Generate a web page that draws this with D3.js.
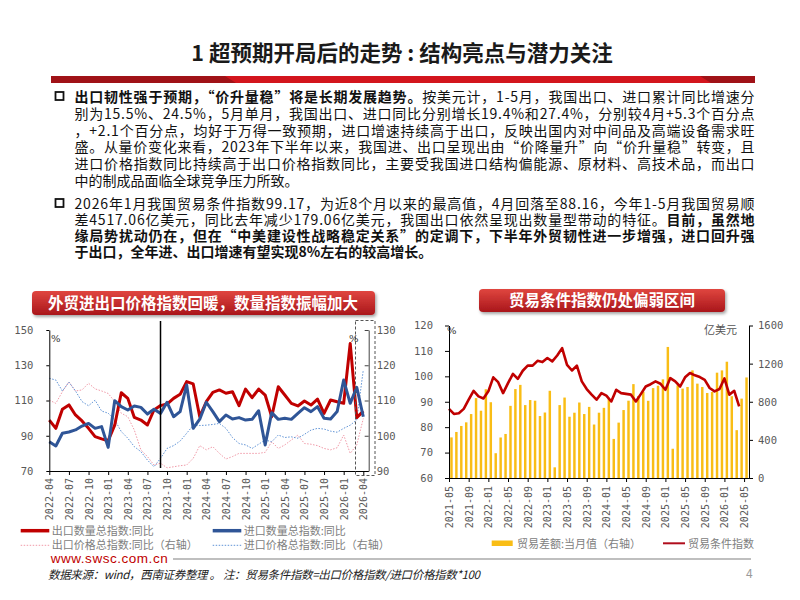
<!DOCTYPE html>
<html>
<head>
<meta charset="utf-8">
<script src="https://cdn.jsdelivr.net/npm/d3@7"></script>
<style>
  body { margin: 0; background: #fff; }
  svg { display: block; font-family: "Noto Sans CJK SC", "Noto Sans", sans-serif; }
  .mono text { font-family: "DejaVu Sans Mono", monospace; }
</style>
</head>
<body>
<svg id="slide" width="800" height="600"></svg>
<script>
// ---- left chart data (2022-04 .. 2026-04) ----
const leftTicks = ["2022-04","2022-07","2022-10","2023-01","2023-04","2023-07","2023-10","2024-01",
  "2024-04","2024-07","2024-10","2025-01","2025-04","2025-07","2025-10","2026-01","2026-04"];
const exportVolume = [98.9, 94.2, 105.0, 107.5, 101.8, 98.4, 94.2, 89.5, 88.2, 87.2,
  96.0, 114.4, 111.2, 100.4, 98.9, 96.1, 104.6, 107.1, 108.0, 111.2,
  113.5, 120.7, 119.4, 100.8, 109.3, 114.6, 116.0, 114.1, 115.0, 107.1,
  116.5, 111.6, 116.5, 113.1, 100.8, 117.8, 113.1, 108.4, 106.9, 109.7,
  107.4, 110.8, 102.7, 110.3, 109.3, 108.4, 142.4, 100.3, 104.0];
const importVolume = [86.6, 84.2, 91.4, 92.1, 93.3, 95.5, 97.0, 94.2, 95.2, 83.4,
  109.9, 106.5, 104.6, 106.9, 106.1, 102.3, 105.0, 102.7, 109.0, 100.8,
  103.7, 118.8, 94.2, 99.4, 109.0, 103.7, 98.0, 101.8, 99.5, 100.3,
  98.9, 99.3, 104.2, 84.8, 103.1, 99.3, 99.9, 99.3, 102.7, 105.9,
  103.7, 106.5, 99.9, 99.5, 103.7, 121.6, 108.4, 117.5, 100.8];
const exportPrice = [110.1, 109.2, 112.5, 115.3, 112.7, 113.0, 114.9, 113.3, 112.7, 112.0,
  109.7, 106.4, 105.4, 101.6, 96.0, 94.1, 91.7, 92.2, 90.9, 91.2,
  91.5, 91.7, 93.6, 97.2, 96.0, 96.9, 95.0, 93.4, 94.1, 95.0,
  95.0, 95.0, 95.0, 95.3, 98.3, 96.4, 97.4, 98.8, 100.2, 97.8,
  97.6, 97.2, 96.4, 96.0, 96.6, 100.2, 95.0, 97.4, 104.9];
const importPrice = [116.3, 115.8, 112.7, 115.2, 112.7, 109.7, 108.5, 110.1, 107.0, 106.4,
  104.5, 101.2, 99.3, 96.9, 95.5, 93.1, 91.2, 93.6, 96.4, 97.2,
  98.5, 100.7, 103.0, 102.9, 103.0, 103.2, 103.5, 102.1, 99.5, 97.8,
  97.4, 96.4, 97.6, 98.8, 98.3, 100.2, 99.5, 99.7, 99.3, 100.4,
  101.6, 102.1, 101.9, 101.3, 101.0, 102.1, 103.0, 104.5, 118.7];

// ---- right chart data (2021-05 .. 2026-05) ----
const rightTicks = ["2021-05","2021-09","2022-01","2022-05","2022-09","2023-01","2023-05","2023-09",
  "2024-01","2024-05","2024-09","2025-01","2025-05","2025-09","2026-01","2026-05"];
const tradeBalance = [426, 483, 546, 584, 671, 838, 706, 931, 795, 260,
  425, 462, 757, 933, 977, 765, 818, 811, 650, 687,
  915, 112, 765, 844, 643, 685, 792, 671, 746, 561,
  685, 736, 830, 410, 581, 713, 811, 985, 860, 905,
  810, 943, 968, 1035, 1375, 307, 973, 938, 955, 1129,
  990, 955, 892, 903, 1105, 1129, 1220, 858, 502, 833, 1055];
const termsOfTrade = [87.2, 85.2, 85.5, 87.2, 90.8, 94.3, 92.1, 91.3, 94.1, 99.6,
  97.7, 93.4, 97.3, 101.0, 99.0, 102.2, 104.2, 104.2, 106.1, 105.6,
  107.2, 105.9, 108.2, 111.1, 104.5, 102.3, 104.2, 98.0, 95.0, 92.8,
  90.8, 93.4, 92.4, 90.1, 94.7, 93.4, 93.1, 92.8, 90.1, 93.0,
  96.0, 96.9, 98.0, 97.1, 94.7, 99.3, 98.0, 96.0, 99.6, 101.3,
  100.4, 99.7, 98.6, 95.4, 94.1, 95.0, 99.17, 92.8, 94.3, 88.16];

const fmt = d3.timeFormat("%Y-%m");
const leftMonths = d3.timeMonth.range(new Date(2022, 3, 1), new Date(2026, 4, 1)).map(fmt);
const rightMonths = d3.timeMonth.range(new Date(2021, 4, 1), new Date(2026, 5, 1)).map(fmt);

const svg = d3.select("#slide");
const defs = svg.append("defs");

const grad = defs.append("linearGradient").attr("id", "hdr").attr("x1", 0).attr("y1", 0).attr("x2", 0).attr("y2", 1);
grad.append("stop").attr("offset", "0%").attr("stop-color", "#e0463f");
grad.append("stop").attr("offset", "100%").attr("stop-color", "#a9161b");
const shadow = defs.append("filter").attr("id", "sh").attr("x", "-10%").attr("y", "-30%").attr("width", "120%").attr("height", "170%");
shadow.append("feDropShadow").attr("dx", 1.5).attr("dy", 2).attr("stdDeviation", 1.5).attr("flood-color", "#000").attr("flood-opacity", 0.35);

// ---- title ----
svg.append("text").attr("x", 402).attr("y", 61).attr("text-anchor", "middle")
  .attr("font-size", 21.5).attr("font-weight", 700).attr("fill", "#1a1a1a")
  .attr("xml:space", "preserve")
  .text("1 超预期开局后的走势 : 结构亮点与潜力关注");

svg.append("rect").attr("x", 51).attr("y", 76).attr("width", 704).attr("height", 7).attr("fill", "#d3151d");
svg.append("path").attr("d", "M51,76 L225,76 L236,83 L51,83 Z").attr("fill", "#a01217");
svg.append("path").attr("d", "M700,76 L755,76 L755,83 L711,83 Z").attr("fill", "#a01217");

// ---- paragraphs ----
function paragraph(lines, y0, lh) {
  svg.append("rect").attr("x", 55.5).attr("y", y0 - 10).attr("width", 8).attr("height", 8)
    .attr("fill", "none").attr("stroke", "#111").attr("stroke-width", 1.8);
  lines.forEach(function(line, i) {
    const t = svg.append("text").attr("x", 74.5).attr("y", y0 + i * lh)
      .attr("font-size", 14).attr("fill", "#111");
    line.parts.forEach(function(p) {
      t.append("tspan").attr("font-weight", p[1] ? 700 : 400).text(p[0]);
    });
    if (line.full) t.attr("textLength", 680).attr("lengthAdjust", "spacing");
  });
}

paragraph([
  {full: true, parts: [["出口韧性强于预期，“价升量稳”将是长期发展趋势。", 1], ["按美元计，1-5月，我国出口、进口累计同比增速分", 0]]},
  {full: true, parts: [["别为15.5%、24.5%，5月单月，我国出口、进口同比分别增长19.4%和27.4%，分别较4月+5.3个百分点", 0]]},
  {full: true, parts: [["，+2.1个百分点，均好于万得一致预期，进口增速持续高于出口，反映出国内对中间品及高端设备需求旺", 0]]},
  {full: true, parts: [["盛。从量价变化来看，2023年下半年以来，我国进、出口呈现出由“价降量升”向“价升量稳”转变，且", 0]]},
  {full: true, parts: [["进口价格指数同比持续高于出口价格指数同比，主要受我国进口结构偏能源、原材料、高技术品，而出口", 0]]},
  {full: false, parts: [["中的制成品面临全球竞争压力所致。", 0]]}
], 102, 16.8);

paragraph([
  {full: true, parts: [["2026年1月我国贸易条件指数99.17，为近8个月以来的最高值，4月回落至88.16，今年1-5月我国贸易顺", 0]]},
  {full: true, parts: [["差4517.06亿美元，同比去年减少179.06亿美元，我国出口依然呈现出数量型带动的特征。", 0], ["目前，虽然地", 1]]},
  {full: true, parts: [["缘局势扰动仍在，但在“中美建设性战略稳定关系”的定调下，下半年外贸韧性进一步增强，进口回升强", 1]]},
  {full: false, parts: [["于出口，全年进、出口增速有望实现8%左右的较高增长。", 1]]}
], 209, 16);

// ---- panel headers ----
function header(x, y, w, h, label, cx, by) {
  svg.append("rect").attr("x", x).attr("y", y).attr("width", w).attr("height", h).attr("rx", 4)
    .attr("fill", "url(#hdr)").attr("filter", "url(#sh)");
  svg.append("text").attr("x", cx).attr("y", by).attr("text-anchor", "middle")
    .attr("font-size", 15.5).attr("font-weight", 700).attr("fill", "#fff").text(label);
}
header(32, 291, 343, 24, "外贸进出口价格指数回暖，数量指数振幅加大", 203, 309);
header(479, 289, 246, 23, "贸易条件指数仍处偏弱区间", 602, 306);

function styleAxis(g, color) {
  g.attr("class", "mono");
  g.select(".domain").attr("stroke", color).attr("stroke-width", 1);
  g.selectAll(".tick line").attr("stroke", color);
  g.selectAll(".tick text").attr("fill", "#595959").attr("font-size", 10.5);
}

// ---- left chart ----
const xL = d3.scalePoint().domain(leftMonths).range([49.3, 363.3]);
const yL = d3.scaleLinear().domain([70, 150]).range([471, 330]);
const yL2 = d3.scaleLinear().domain([90, 130]).range([471, 330]);

const lineL = d3.line().x(d => xL(d.m)).y(d => d.y);
function series(values, scale) {
  return values.map((v, i) => ({m: leftMonths[i], y: scale(v)}));
}
svg.append("path").datum(series(exportPrice, yL2)).attr("d", lineL)
  .attr("fill", "none").attr("stroke", "#f19aa8").attr("stroke-width", 1).attr("stroke-dasharray", "1.5,1.5");
svg.append("path").datum(series(importPrice, yL2)).attr("d", lineL)
  .attr("fill", "none").attr("stroke", "#5f93d6").attr("stroke-width", 1).attr("stroke-dasharray", "1.5,1.5");
svg.append("path").datum(series(exportVolume, yL)).attr("d", lineL)
  .attr("fill", "none").attr("stroke", "#c00000").attr("stroke-width", 3).attr("stroke-linejoin", "round");
svg.append("path").datum(series(importVolume, yL)).attr("d", lineL)
  .attr("fill", "none").attr("stroke", "#2f5597").attr("stroke-width", 3).attr("stroke-linejoin", "round");

svg.append("g").attr("transform", "translate(49.3,0)")
  .call(d3.axisLeft(yL).tickValues([70, 90, 110, 130, 150]).tickSize(3).tickPadding(13).tickSizeOuter(0))
  .call(g => styleAxis(g, "#000"));
svg.append("g").attr("transform", "translate(368.7,0)")
  .call(d3.axisRight(yL2).tickValues([90, 100, 110, 120, 130]).tickSizeInner(-4).tickPadding(8).tickSizeOuter(0))
  .call(g => styleAxis(g, "#444"));
svg.append("g").attr("transform", "translate(0,471)")
  .call(d3.axisBottom(xL).tickValues(leftTicks).tickSize(4).tickSizeOuter(0))
  .call(g => {
    styleAxis(g, "#000");
    g.select(".domain").attr("d", "M49.3,0.5H368.7");
    g.selectAll(".tick text").attr("font-size", 10).attr("transform", "rotate(-90)")
      .attr("text-anchor", "end").attr("x", -7).attr("y", 0).attr("dy", "0.35em");
  });

// marker line and highlight box
svg.append("line").attr("x1", xL("2023-09")).attr("x2", xL("2023-09")).attr("y1", 321).attr("y2", 468)
  .attr("stroke", "#000").attr("stroke-width", 1.5);
svg.append("rect").attr("x", 355.5).attr("y", 320.5).attr("width", 19.5).attr("height", 155)
  .attr("fill", "none").attr("stroke", "#555").attr("stroke-dasharray", "3,2");
svg.append("text").attr("x", 51).attr("y", 342).attr("font-size", 10).attr("fill", "#333")
  .attr("font-family", "DejaVu Serif").text("%");
svg.append("text").attr("x", 349).attr("y", 342).attr("font-size", 10).attr("fill", "#333")
  .attr("font-family", "DejaVu Serif").text("%");

// left legend
const legL = [
  {x: 20.7, y: 530.7, c: "#c00000", w: 3.5, dash: null, t: "出口数量总指数:同比"},
  {x: 212.7, y: 530.7, c: "#2f5597", w: 3.5, dash: null, t: "进口数量总指数:同比"},
  {x: 20.7, y: 545.3, c: "#f19aa8", w: 1, dash: "1.5,1.5", t: "出口价格总指数:同比（右轴）"},
  {x: 212.7, y: 545.3, c: "#5f93d6", w: 1, dash: "1.5,1.5", t: "进口价格总指数:同比（右轴）"}
];
legL.forEach(function(d) {
  svg.append("line").attr("x1", d.x).attr("x2", d.x + 28.6).attr("y1", d.y).attr("y2", d.y)
    .attr("stroke", d.c).attr("stroke-width", d.w).attr("stroke-dasharray", d.dash);
  svg.append("text").attr("x", d.x + 31).attr("y", d.y + 4).attr("font-size", 11).attr("fill", "#808080").text(d.t);
});

// ---- right chart ----
const xR = d3.scaleBand().domain(rightMonths).range([449, 749]).paddingInner(0.5).paddingOuter(0.25);
const xRt = d3.scalePoint().domain(rightMonths).range([449, 449 + 60 * xR.step()]);
const yR = d3.scaleLinear().domain([60, 120]).range([478, 325.5]);
const yR2 = d3.scaleLinear().domain([0, 1600]).range([478, 325.5]);

svg.append("g").selectAll("rect").data(tradeBalance).enter().append("rect")
  .attr("x", (d, i) => xR(rightMonths[i]))
  .attr("y", d => yR2(d))
  .attr("width", xR.bandwidth())
  .attr("height", d => yR2(0) - yR2(d))
  .attr("fill", "#f9bd15");

svg.append("path").datum(termsOfTrade)
  .attr("d", d3.line().x((d, i) => xRt(rightMonths[i])).y(d => yR(d)))
  .attr("fill", "none").attr("stroke", "#c00000").attr("stroke-width", 2.6).attr("stroke-linejoin", "round");

svg.append("g").attr("transform", "translate(449,0)")
  .call(d3.axisLeft(yR).tickValues([60, 70, 80, 90, 100, 110, 120]).tickSize(4).tickPadding(12).tickSizeOuter(0))
  .call(g => styleAxis(g, "#000"));
svg.append("g").attr("transform", "translate(749,0)")
  .call(d3.axisRight(yR2).tickValues([0, 400, 800, 1200, 1600]).tickFormat(d3.format("d"))
    .tickSize(4).tickPadding(5).tickSizeOuter(0))
  .call(g => styleAxis(g, "#000"));
svg.append("g").attr("transform", "translate(0,478)")
  .call(d3.axisBottom(xRt).tickValues(rightTicks).tickSize(4).tickSizeOuter(0))
  .call(g => {
    styleAxis(g, "#000");
    g.select(".domain").attr("d", "M449,0.5H749");
    g.selectAll(".tick text").attr("font-size", 10).attr("transform", "rotate(-90)")
      .attr("text-anchor", "end").attr("x", -8).attr("y", 0).attr("dy", "0.35em");
  });
svg.append("text").attr("x", 447).attr("y", 334).attr("font-size", 10).attr("fill", "#333")
  .attr("font-family", "DejaVu Serif").text("%");
svg.append("text").attr("x", 704).attr("y", 334).attr("font-size", 11).attr("fill", "#555").text("亿美元");

// right legend
svg.append("rect").attr("x", 491.7).attr("y", 540.5).attr("width", 21).attr("height", 5.5).attr("fill", "#f9bd15");
svg.append("text").attr("x", 517).attr("y", 547.5).attr("font-size", 11).attr("fill", "#808080").text("贸易差额:当月值（右轴）");
svg.append("line").attr("x1", 663).attr("x2", 685).attr("y1", 543.3).attr("y2", 543.3)
  .attr("stroke", "#b00d1c").attr("stroke-width", 2);
svg.append("text").attr("x", 688).attr("y", 547.5).attr("font-size", 11).attr("fill", "#808080").text("贸易条件指数");

// ---- footer ----
svg.append("text").attr("x", 50.7).attr("y", 563).attr("font-family", "Liberation Sans, Arial, sans-serif")
  .attr("font-size", 13.5).attr("fill", "#c00000").attr("textLength", 117).text("www.swsc.com.cn");
svg.append("line").attr("x1", 173).attr("x2", 751).attr("y1", 559).attr("y2", 559)
  .attr("stroke", "#bfbfbf").attr("stroke-width", 2);
svg.append("text").attr("x", 48).attr("y", 579).attr("font-size", 11.5).attr("font-style", "italic")
  .attr("fill", "#222").attr("textLength", 432)
  .text("数据来源：wind，西南证券整理 。 注：贸易条件指数=出口价格指数/进口价格指数*100");
svg.append("text").attr("x", 746).attr("y", 578).attr("font-size", 12).attr("fill", "#9a9a9a").text("4");
</script>
</body>
</html>
